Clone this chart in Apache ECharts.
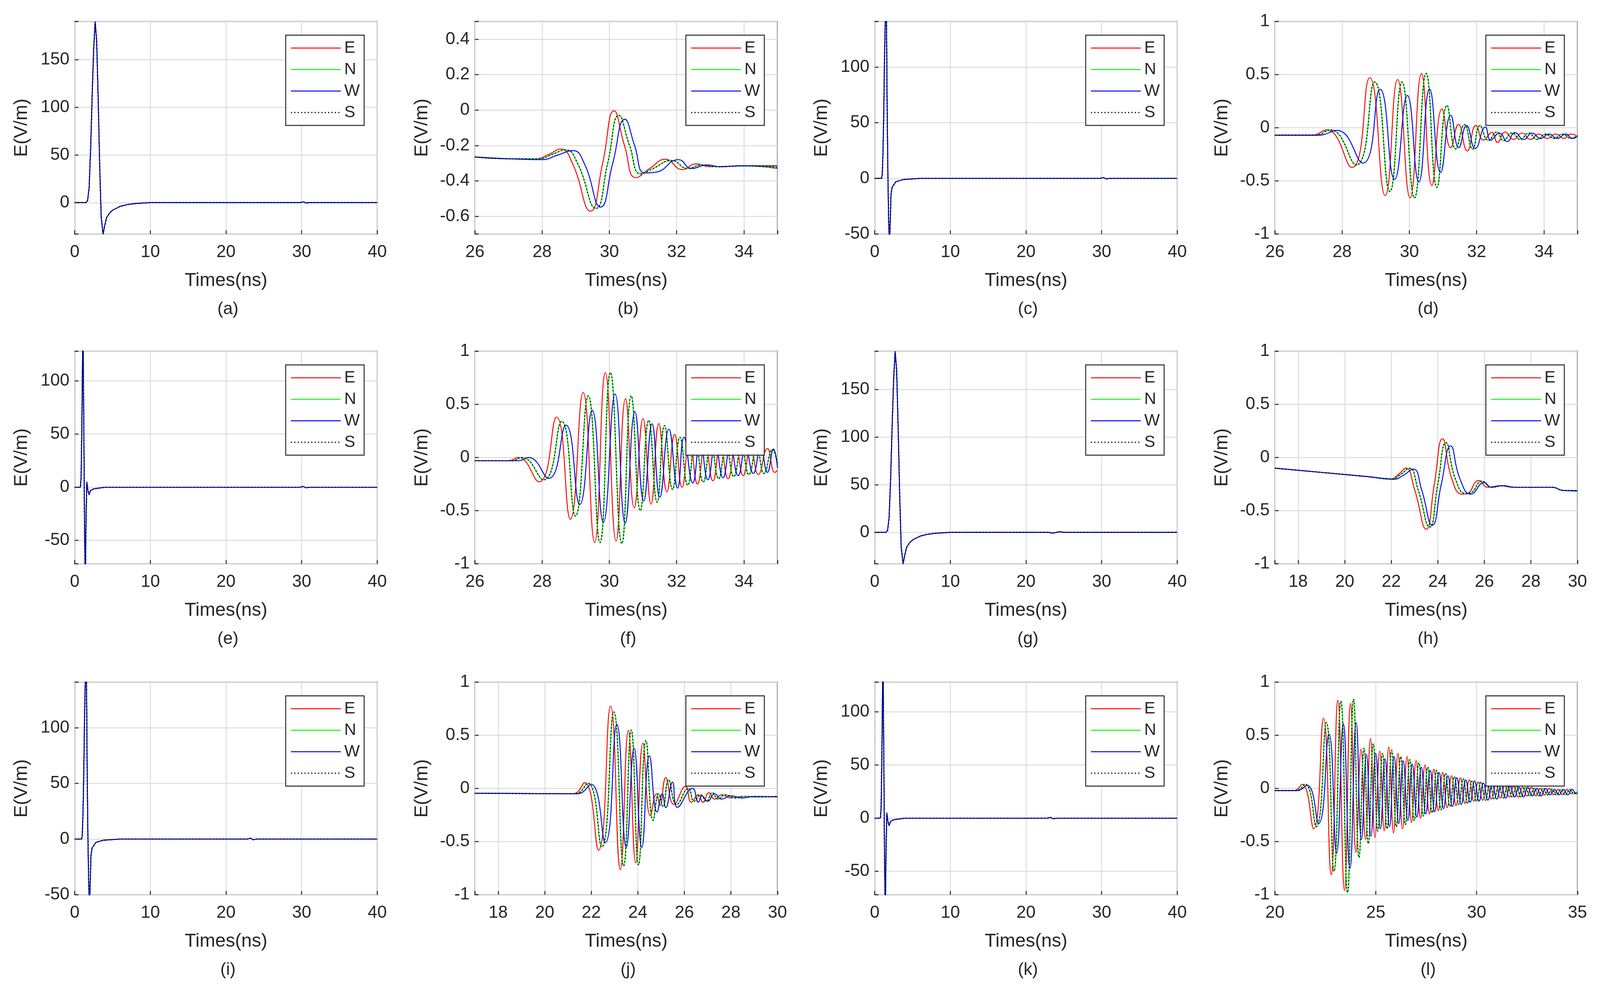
<!DOCTYPE html>
<html lang="en">
<head>
<meta charset="UTF-8">
<title>E field waveforms</title>
<script src="https://cdn.jsdelivr.net/npm/echarts@6/dist/echarts.min.js"></script>
<style>
  html, body { margin: 0; padding: 0; background: #fff; overflow: hidden; }
  #main { width: 100vw; height: 100vh; }
</style>
</head>
<body>
<div id="main"></div>
<script type="text/javascript">

// ---- data: [time(ns), E(V/m)] ----
var pulseA = [[0,0],[1.5,0],[1.7,2],[1.9,15],[2.1,55],[2.3,110],[2.5,160],[2.7,190],[2.9,170],[3.1,110],[3.3,40],[3.5,-15],[3.75,-33],[3.95,-25],[4.2,-16],[4.6,-11],[5,-8],[6,-4],[7,-2],[8,-1],[10,0],[20,0],[29.8,0],[30.2,0.8],[30.6,-0.5],[31,0],[40,0]];
var pulseC = [[0,0],[0.9,0],[1.0,3],[1.1,25],[1.2,60],[1.3,110],[1.45,160],[1.55,150],[1.65,60],[1.75,0],[1.85,-40],[1.95,-60],[2.05,-40],[2.15,-15],[2.3,-8],[2.8,-3],[3.8,-1],[6,0],[29.8,0],[30.2,0.8],[30.6,-0.5],[31,0],[40,0]];
var pulseE = [[0,0],[0.75,0],[0.85,10],[0.95,60],[1.05,130],[1.1,150],[1.2,60],[1.3,-40],[1.4,-90],[1.5,-30],[1.6,5],[1.75,-3],[1.9,-7],[2.1,-3],[2.5,-1.5],[4,0],[29.8,0],[30.2,0.8],[30.6,-0.5],[31,0],[40,0]];
var pulseG = [[0,0],[1.5,0],[1.7,2],[1.9,15],[2.1,55],[2.3,110],[2.5,160],[2.7,190],[2.9,170],[3.1,110],[3.3,40],[3.5,-15],[3.75,-33],[3.95,-25],[4.2,-16],[4.6,-11],[5,-8],[6,-4],[7,-2],[8,-1],[10,0],[23,0],[23.5,-0.8],[24.5,0.6],[25,0],[40,0]];
var pulseI = [[0,0],[0.9,0],[1.0,3],[1.1,25],[1.2,60],[1.3,110],[1.45,160],[1.55,150],[1.65,60],[1.75,0],[1.85,-40],[1.95,-60],[2.05,-40],[2.15,-15],[2.3,-8],[2.8,-3],[3.8,-1],[6,0],[22.8,0],[23.2,0.8],[23.6,-0.6],[24,0],[40,0]];
var pulseK = [[0,0],[0.75,0],[0.85,10],[0.95,60],[1.05,130],[1.1,150],[1.2,60],[1.3,-40],[1.4,-90],[1.5,-30],[1.6,5],[1.75,-3],[1.9,-7],[2.1,-3],[2.5,-1.5],[4,0],[22.8,0],[23.2,0.8],[23.6,-0.6],[24,0],[40,0]];

var bE = [[26,-0.265],[27,-0.275],[27.8,-0.275],[28.2,-0.25],[28.56,-0.22],[28.9,-0.3],[29.44,-0.571],[29.8,-0.3],[30.14,-0.004],[30.45,-0.2],[30.79,-0.382],[31.2,-0.33],[31.67,-0.278],[32.17,-0.336],[32.58,-0.304],[33,-0.32],[34,-0.315],[35,-0.33]];
var bN = [[26,-0.265],[27,-0.275],[27.9,-0.275],[28.3,-0.25],[28.7,-0.225],[29.05,-0.3],[29.6,-0.555],[29.95,-0.3],[30.28,-0.03],[30.6,-0.2],[30.93,-0.36],[31.3,-0.33],[31.85,-0.285],[32.33,-0.33],[32.75,-0.31],[33.2,-0.32],[34,-0.315],[35,-0.325]];
var bW = [[26,-0.265],[27,-0.275],[28,-0.28],[28.45,-0.255],[28.92,-0.229],[29.25,-0.3],[29.74,-0.548],[30.1,-0.3],[30.46,-0.052],[30.75,-0.2],[31.05,-0.355],[31.4,-0.35],[32.05,-0.28],[32.45,-0.33],[32.9,-0.31],[33.3,-0.32],[34,-0.315],[35,-0.315]];

var dE = [[26,-0.07],[27.1,-0.07],[27.54,-0.02],[28.29,-0.374],[28.82,0.471],[29.28,-0.638],[29.65,0.454],[30.02,-0.66],[30.36,0.51],[30.67,-0.543],[30.97,0.178],[31.23,-0.188],[31.46,0.032],[31.72,-0.217],[31.98,0.022],[32.2,-0.116],[32.46,-0.043],[32.62,-0.138],[32.85,-0.04],[33.1,-0.11],[33.35,-0.05],[33.6,-0.11],[33.85,-0.06],[34.1,-0.1],[34.35,-0.06],[34.6,-0.1],[34.8,-0.06],[35,-0.08]];
var dN = [[26,-0.07],[27.2,-0.07],[27.65,-0.02],[28.42,-0.35],[28.97,0.43],[29.42,-0.6],[29.78,0.43],[30.15,-0.66],[30.5,0.51],[30.82,-0.56],[31.12,0.21],[31.38,-0.2],[31.64,0.03],[31.88,-0.2],[32.1,0.02],[32.35,-0.12],[32.6,-0.04],[32.8,-0.12],[33.05,-0.05],[33.3,-0.11],[33.55,-0.05],[33.8,-0.11],[34.05,-0.06],[34.3,-0.1],[34.55,-0.06],[34.8,-0.1],[35,-0.07]];
var dW = [[26,-0.07],[27.3,-0.07],[27.85,-0.025],[28.62,-0.333],[29.13,0.362],[29.56,-0.486],[29.94,0.304],[30.28,-0.51],[30.6,0.365],[30.93,-0.42],[31.23,0.119],[31.47,-0.188],[31.7,0.022],[31.96,-0.195],[32.26,0.007],[32.42,-0.116],[32.68,-0.05],[32.91,-0.13],[33.14,-0.046],[33.4,-0.11],[33.65,-0.05],[33.9,-0.1],[34.15,-0.06],[34.4,-0.1],[34.65,-0.06],[34.85,-0.1],[35,-0.08]];

var fE = [[26,-0.03],[27.0,-0.03],[27.29,0.0],[27.91,-0.229],[28.43,0.38],[28.84,-0.581],[29.22,0.612],[29.56,-0.799],[29.88,0.797],[30.2,-0.787],[30.48,0.554],[30.74,-0.475],[31.0,0.365],[31.24,-0.439],[31.47,0.319],[31.71,-0.323],[31.94,0.217],[32.16,-0.28],[32.39,0.17],[32.62,-0.25],[32.85,0.13],[33.08,-0.22],[33.3,0.11],[33.53,-0.2],[33.76,0.1],[33.98,-0.17],[34.2,0.09],[34.43,-0.16],[34.7,0.085],[34.92,-0.14],[35,-0.12]];
var fN = [[26,-0.03],[27.1,-0.03],[27.4,0.0],[28.05,-0.21],[28.58,0.34],[28.99,-0.55],[29.37,0.58],[29.72,-0.8],[30.03,0.8],[30.37,-0.81],[30.65,0.58],[30.92,-0.5],[31.17,0.35],[31.42,-0.42],[31.64,0.3],[31.88,-0.3],[32.1,0.19],[32.33,-0.26],[32.56,0.16],[32.79,-0.23],[33.02,0.12],[33.25,-0.2],[33.47,0.11],[33.7,-0.18],[33.93,0.1],[34.15,-0.16],[34.38,0.09],[34.6,-0.15],[34.85,0.075],[35,-0.05]];
var fW = [[26,-0.03],[27.3,-0.03],[27.6,0.0],[28.2,-0.196],[28.71,0.304],[29.12,-0.442],[29.49,0.445],[29.82,-0.61],[30.17,0.597],[30.47,-0.62],[30.76,0.43],[31.02,-0.41],[31.27,0.317],[31.5,-0.374],[31.77,0.267],[32.03,-0.287],[32.22,0.19],[32.48,-0.24],[32.7,0.15],[32.93,-0.21],[33.15,0.12],[33.38,-0.19],[33.6,0.1],[33.83,-0.17],[34.05,0.09],[34.28,-0.15],[34.5,0.085],[34.7,-0.14],[34.88,0.08],[35,-0.1]];

var hE = [[17,-0.1],[19,-0.14],[21,-0.18],[22,-0.2],[22.3,-0.16],[22.63,-0.1],[23.0,-0.3],[23.5,-0.675],[23.85,-0.25],[24.2,0.177],[24.6,-0.2],[25.04,-0.345],[25.25,-0.34],[25.76,-0.217],[26.14,-0.28],[26.7,-0.265],[27.2,-0.28],[28.9,-0.28],[29.4,-0.31],[30,-0.31]];
var hN = [[17,-0.1],[19,-0.14],[21,-0.18],[22.05,-0.2],[22.4,-0.16],[22.78,-0.1],[23.15,-0.3],[23.65,-0.655],[24.0,-0.25],[24.35,0.14],[24.75,-0.2],[25.2,-0.34],[25.4,-0.335],[25.9,-0.222],[26.3,-0.28],[26.8,-0.265],[27.3,-0.28],[28.9,-0.28],[29.4,-0.31],[30,-0.31]];
var hW = [[17,-0.1],[19,-0.14],[21,-0.18],[22.1,-0.205],[22.5,-0.17],[22.95,-0.109],[23.3,-0.3],[23.76,-0.638],[24.15,-0.25],[24.55,0.109],[24.95,-0.2],[25.42,-0.345],[26.0,-0.236],[26.29,-0.28],[26.8,-0.265],[27.3,-0.28],[28.9,-0.28],[29.4,-0.31],[30,-0.315]];

var jE = [[17,-0.045],[21.2,-0.05],[21.71,0.054],[22.31,-0.58],[22.83,0.775],[23.25,-0.765],[23.59,0.546],[23.91,-0.7],[24.22,0.427],[24.54,-0.258],[24.8,-0.05],[24.95,-0.16],[25.2,0.1],[25.55,-0.15],[26.05,0.02],[26.3,-0.13],[26.6,-0.06],[26.8,-0.13],[27.05,-0.04],[27.3,-0.1],[27.6,-0.06],[28,-0.09],[28.5,-0.075],[29,-0.08],[30,-0.075]];
var jN = [[17,-0.045],[21.3,-0.05],[21.85,0.05],[22.45,-0.55],[22.97,0.72],[23.39,-0.73],[23.72,0.55],[24.03,-0.72],[24.35,0.45],[24.66,-0.3],[24.9,-0.05],[25.08,-0.17],[25.32,0.08],[25.67,-0.15],[26.17,0.0],[26.42,-0.12],[26.7,-0.06],[26.95,-0.12],[27.2,-0.04],[27.45,-0.1],[27.75,-0.06],[28.2,-0.09],[28.6,-0.075],[29.2,-0.08],[30,-0.075]];
var jW = [[17,-0.045],[21.4,-0.05],[21.99,0.04],[22.6,-0.51],[23.1,0.604],[23.5,-0.555],[23.84,0.38],[24.17,-0.555],[24.5,0.307],[24.83,-0.222],[25.05,-0.05],[25.2,-0.18],[25.49,0.06],[25.7,-0.178],[26.35,0.0],[26.6,-0.13],[26.75,-0.07],[27.0,-0.12],[27.3,-0.05],[27.6,-0.1],[28.0,-0.07],[28.5,-0.09],[29,-0.075],[30,-0.08]];

var lE = [[20,-0.02],[20.95,-0.02],[21.35,0.04],[21.92,-0.38],[22.41,0.66],[22.79,-0.81],[23.12,0.83],[23.45,-0.96],[23.75,0.8],[24.02,-0.6],[24.27,0.37],[24.49,-0.48],[24.74,0.47],[24.96,-0.46],[25.2,0.35],[25.42,-0.4],[25.65,0.39],[25.88,-0.42],[26.1,0.33],[26.33,-0.38],[26.55,0.3],[26.77,-0.32],[27.0,0.26],[27.22,-0.28],[27.44,0.22],[27.66,-0.24],[27.88,0.18],[28.1,-0.21],[28.32,0.15],[28.54,-0.18],[28.76,0.12],[28.98,-0.16],[29.2,0.1],[29.42,-0.14],[29.64,0.08],[29.86,-0.12],[30.08,0.06],[30.3,-0.11],[30.52,0.05],[30.74,-0.1],[30.96,0.04],[31.18,-0.09],[31.4,0.03],[31.62,-0.08],[31.84,0.02],[32.06,-0.08],[32.28,0.01],[32.5,-0.07],[32.72,0.01],[32.94,-0.07],[33.16,0.0],[33.38,-0.06],[33.6,0.0],[33.82,-0.06],[34.04,-0.01],[34.26,-0.06],[34.48,-0.01],[34.7,-0.05],[35,-0.03]];
var lN = [[20,-0.02],[21.05,-0.02],[21.5,0.04],[22.05,-0.36],[22.55,0.62],[22.93,-0.78],[23.27,0.82],[23.6,-0.98],[23.9,0.84],[24.17,-0.65],[24.42,0.38],[24.63,-0.52],[24.88,0.42],[25.1,-0.4],[25.34,0.33],[25.56,-0.38],[25.79,0.36],[26.02,-0.36],[26.24,0.3],[26.47,-0.34],[26.69,0.27],[26.91,-0.3],[27.14,0.24],[27.36,-0.26],[27.58,0.2],[27.8,-0.23],[28.02,0.17],[28.24,-0.2],[28.46,0.14],[28.68,-0.17],[28.9,0.11],[29.12,-0.15],[29.34,0.09],[29.56,-0.14],[29.78,0.07],[30.0,-0.12],[30.22,0.06],[30.44,-0.11],[30.66,0.05],[30.88,-0.1],[31.1,0.03],[31.32,-0.09],[31.54,0.02],[31.76,-0.08],[31.98,0.02],[32.2,-0.08],[32.42,0.01],[32.64,-0.07],[32.86,0.0],[33.08,-0.07],[33.3,0.0],[33.52,-0.06],[33.74,-0.01],[33.96,-0.06],[34.18,-0.01],[34.4,-0.06],[34.62,-0.01],[34.84,-0.05],[35,-0.03]];
var lW = [[20,-0.02],[21.1,-0.02],[21.6,0.03],[22.17,-0.33],[22.68,0.51],[23.06,-0.61],[23.39,0.61],[23.72,-0.75],[24.03,0.62],[24.29,-0.48],[24.54,0.32],[24.76,-0.45],[25.0,0.33],[25.23,-0.38],[25.46,0.28],[25.68,-0.36],[25.91,0.3],[26.14,-0.33],[26.36,0.26],[26.59,-0.3],[26.81,0.23],[27.04,-0.27],[27.26,0.2],[27.48,-0.24],[27.7,0.17],[27.92,-0.22],[28.14,0.15],[28.36,-0.19],[28.58,0.12],[28.8,-0.17],[29.02,0.1],[29.24,-0.15],[29.46,0.08],[29.68,-0.13],[29.9,0.07],[30.12,-0.12],[30.34,0.05],[30.56,-0.11],[30.78,0.04],[31.0,-0.1],[31.22,0.03],[31.44,-0.09],[31.66,0.02],[31.88,-0.08],[32.1,0.01],[32.32,-0.08],[32.54,0.01],[32.76,-0.07],[32.98,0.0],[33.2,-0.07],[33.42,0.0],[33.64,-0.06],[33.86,-0.01],[34.08,-0.06],[34.3,-0.01],[34.52,-0.06],[34.74,-0.01],[34.94,-0.05],[35,-0.04]];

var captions = ['(a)','(b)','(c)','(d)','(e)','(f)','(g)','(h)','(i)','(j)','(k)','(l)'];
var seriesNames = ['E','N','W','S'];

// x range, y range, label step for each panel
var panels = [
  {w:[pulseA,pulseA,pulseA,pulseA], x:[0,40,10], y:[-33,190,50], smooth:false},
  {w:[bE,bN,bW,bN], x:[26,35,2], y:[-0.7,0.5,0.2], smooth:0.5},
  {w:[pulseC,pulseC,pulseC,pulseC], x:[0,40,10], y:[-50,141,50], smooth:false},
  {w:[dE,dN,dW,dN], x:[26,35,2], y:[-1,1,0.5], smooth:0.5},
  {w:[pulseE,pulseE,pulseE,pulseE], x:[0,40,10], y:[-72,128,50], smooth:false},
  {w:[fE,fN,fW,fN], x:[26,35,2], y:[-1,1,0.5], smooth:0.5},
  {w:[pulseG,pulseG,pulseG,pulseG], x:[0,40,10], y:[-33,190,50], smooth:false},
  {w:[hE,hN,hW,hN], x:[17,30,2], y:[-1,1,0.5], smooth:0.5},
  {w:[pulseI,pulseI,pulseI,pulseI], x:[0,40,10], y:[-50,141,50], smooth:false},
  {w:[jE,jN,jW,jN], x:[17,30,2], y:[-1,1,0.5], smooth:0.5},
  {w:[pulseK,pulseK,pulseK,pulseK], x:[0,40,10], y:[-72,128,50], smooth:false},
  {w:[lE,lN,lW,lN], x:[20,35,5], y:[-1,1,0.5], smooth:0.5}
];

var dom = document.getElementById('main');
var myChart = echarts.init(dom);
// layout is worked out on a 4262 x 2539 sheet, then scaled to the real size
var sx = myChart.getWidth() / 4262, sy = myChart.getHeight() / 2539;
var s = Math.min(sx, sy);
var colLeft = [199, 1265, 2330, 3396];
var rowTop = [55, 899, 1746];
var gw = 806, gh = 544;
var font = 'Liberation Sans, Arial, sans-serif';
var ink = '#262626';
var lineColors = ['#ff0000', '#00ff00', '#0000ff', '#000000'];
var dash = [3 * s, 6 * s];

function onStep(step) {
  return function (v) {
    var k = v / step;
    if (Math.abs(k - Math.round(k)) > 1e-6) return '';
    return String(+v.toFixed(2));
  };
}
function splitFor(r) {
  return Math.round((r[1] - r[0]) / r[2]);
}

var grids = [], xAxes = [], yAxes = [], series = [], titles = [], graphics = [];

panels.forEach(function (p, i) {
  var L = colLeft[i % 4], T = rowTop[Math.floor(i / 4)];
  grids.push({left: L * sx, top: T * sy, width: gw * sx, height: gh * sy, show: true,
    borderColor: ink, borderWidth: 2.5 * s, backgroundColor: '#fff'});
  var xm = (p.x[0] % p.x[2] === 0) ? {interval: p.x[2]} : {splitNumber: splitFor(p.x)};
  var ym = (Math.abs(p.y[0] / p.y[2] - Math.round(p.y[0] / p.y[2])) < 1e-9) ? {interval: p.y[2]} : {splitNumber: splitFor(p.y)};
  xAxes.push(Object.assign({
    type: 'value', gridIndex: i, min: p.x[0], max: p.x[1],
    name: 'Times(ns)', nameLocation: 'middle', nameGap: 100 * s,
    nameTextStyle: {fontFamily: font, fontSize: 50 * s, color: ink},
    axisLine: {show: false, onZero: false},
    axisTick: {inside: true, length: 10 * s, lineStyle: {color: ink, width: 2.5 * s}},
    axisLabel: {fontFamily: font, fontSize: 46 * s, color: ink, margin: 26 * s,
      formatter: onStep(p.x[2])},
    splitLine: {lineStyle: {color: '#dcdcdc', width: 2.5 * s}}
  }, xm));
  yAxes.push(Object.assign({
    type: 'value', gridIndex: i, min: p.y[0], max: p.y[1],
    name: 'E(V/m)', nameLocation: 'middle', nameGap: 116 * s,
    nameTextStyle: {fontFamily: font, fontSize: 50 * s, color: ink},
    axisLine: {show: false, onZero: false},
    axisTick: {inside: true, length: 10 * s, lineStyle: {color: ink, width: 2.5 * s}},
    axisLabel: {fontFamily: font, fontSize: 46 * s, color: ink, margin: 14 * s,
      formatter: onStep(p.y[2])},
    splitLine: {lineStyle: {color: '#dcdcdc', width: 2.5 * s}}
  }, ym));
  p.w.forEach(function (data, k) {
    series.push({
      name: seriesNames[k], type: 'line', xAxisIndex: i, yAxisIndex: i,
      data: data, showSymbol: false, symbol: 'none', smooth: p.smooth,
      clip: true, animation: false,
      lineStyle: {color: lineColors[k], width: (k === 3 ? 3 : 2.5) * s,
        type: k === 3 ? dash : 'solid'},
      itemStyle: {color: lineColors[k]}
    });
  });

  // MATLAB-style legend box, drawn by hand
  var bx = (L + gw - 35 - 209) * sx, by = (T + 35) * sy;
  graphics.push({type: 'rect', shape: {x: bx, y: by, width: 209 * sx, height: 231 * sy},
    style: {fill: '#fff', stroke: ink, lineWidth: 2.5 * s}, z: 100});
  seriesNames.forEach(function (nm, k) {
    var cy = by + (33 + k * 55) * sy;
    graphics.push({type: 'line', shape: {x1: bx + 14 * sx, y1: cy, x2: bx + 147 * sx, y2: cy},
      style: {stroke: lineColors[k], lineWidth: (k === 3 ? 3 : 2.5) * s,
        lineDash: k === 3 ? dash : null}, z: 101});
    graphics.push({type: 'text', x: bx + 156 * sx, y: cy,
      style: {text: nm, fill: ink, font: (44 * s) + 'px ' + font, textVerticalAlign: 'middle'}, z: 101});
  });

  titles.push({text: captions[i], left: (L + gw / 2) * sx, top: (T + gh + 166) * sy, textAlign: 'center',
    textStyle: {fontFamily: font, fontSize: 46 * s, fontWeight: 'normal', color: ink}});
});

myChart.setOption({
  animation: false,
  backgroundColor: '#fff',
  title: titles,
  grid: grids,
  xAxis: xAxes,
  yAxis: yAxes,
  graphic: graphics,
  series: series
});
</script>
</body>
</html>
